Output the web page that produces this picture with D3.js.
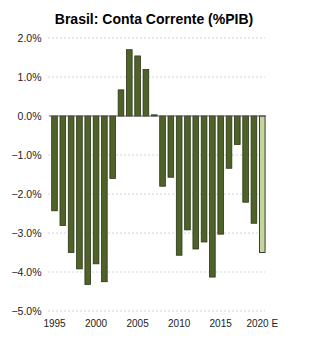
<!DOCTYPE html>
<html>
<head>
<meta charset="utf-8">
<script src="https://cdn.jsdelivr.net/npm/d3@7"></script>
<style>
  html, body { margin: 0; padding: 0; background: #fff; }
  svg { display: block; font-family: "Liberation Sans", Arial, sans-serif; }
</style>
</head>
<body>
<svg id="chart" width="326" height="342"></svg>
<script>
const title = "Brasil: Conta Corrente (%PIB)";
const years = ["1995","1996","1997","1998","1999","2000","2001","2002","2003","2004","2005","2006","2007","2008","2009","2010","2011","2012","2013","2014","2015","2016","2017","2018","2019","2020"];
const values = [-2.43,-2.81,-3.50,-3.92,-4.32,-3.79,-4.25,-1.60,0.67,1.70,1.54,1.19,0.03,-1.80,-1.57,-3.57,-2.92,-3.41,-3.23,-4.13,-3.03,-1.34,-0.73,-2.21,-2.75,-3.50];
const estimate = [false,false,false,false,false,false,false,false,false,false,false,false,false,false,false,false,false,false,false,false,false,false,false,false,false,true];
const yTicks = [2,1,0,-1,-2,-3,-4,-5];
const xTickYears = ["1995","2000","2005","2010","2015","2020"];
const xTickLabels = ["1995","2000","2005","2010","2015","2020 E"];

const svg = d3.select("#chart");

const x = d3.scaleBand().domain(years).range([50.35, 266.4]).paddingInner(0.32).paddingOuter(0.16);
const y = d3.scaleLinear().domain([-5, 2]).range([311, 38]);

// title
svg.append("text")
  .attr("x", 154).attr("y", 23.5)
  .attr("text-anchor", "middle")
  .attr("font-size", 14).attr("font-weight", "bold")
  .attr("fill", "#000")
  .text(title);

// gridlines
svg.append("g").selectAll("line")
  .data(yTicks.filter(d => d !== 0))
  .join("line")
  .attr("x1", 48).attr("x2", 265)
  .attr("y1", d => y(d)).attr("y2", d => y(d))
  .attr("stroke", "#d4d4d4").attr("stroke-width", 1)
  .attr("stroke-dasharray", "2,2");

// y labels
svg.append("g").selectAll("text")
  .data(yTicks)
  .join("text")
  .attr("x", 41.5).attr("y", d => y(d))
  .attr("dy", "0.35em")
  .attr("text-anchor", "end")
  .attr("font-size", 10.5)
  .attr("fill", "#222")
  .text(d => d3.format(".1f")(d) + "%");

// bars
svg.append("g").selectAll("rect")
  .data(years.map((yr, i) => ({yr, v: values[i], e: estimate[i]})))
  .join("rect")
  .attr("x", d => x(d.yr))
  .attr("width", x.bandwidth())
  .attr("y", d => Math.min(y(d.v), y(0)))
  .attr("height", d => Math.abs(y(d.v) - y(0)))
  .attr("fill", d => d.e ? "#c3d69b" : "#4f6228")
  .attr("stroke", d => d.e ? "#111" : "#2a3516")
  .attr("stroke-width", 0.8);

// zero line
svg.append("line")
  .attr("x1", 49).attr("x2", 266)
  .attr("y1", y(0)).attr("y2", y(0))
  .attr("stroke", "#555").attr("stroke-width", 1);

// x labels
svg.append("g").selectAll("text")
  .data(xTickYears)
  .join("text")
  .attr("x", d => x(d) + x.bandwidth() / 2)
  .attr("y", 326.5)
  .attr("text-anchor", "middle")
  .attr("font-size", 10)
  .attr("fill", "#222")
  .text((d, i) => xTickLabels[i]);
</script>
</body>
</html>
